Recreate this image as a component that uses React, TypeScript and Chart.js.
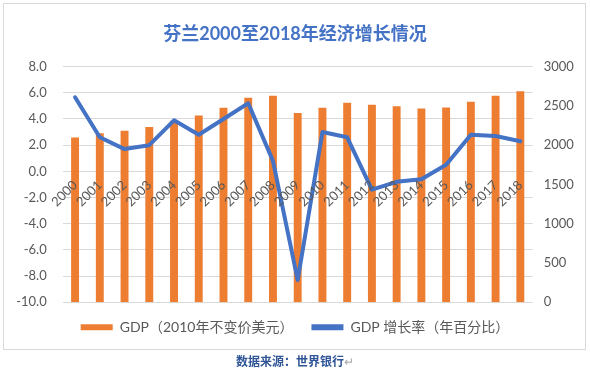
import React, { useEffect, useRef } from 'react';
import { Chart, registerables } from 'chart.js';

Chart.register(...registerables);

const years = ['2000', '2001', '2002', '2003', '2004', '2005', '2006', '2007', '2008', '2009', '2010', '2011', '2012', '2013', '2014', '2015', '2016', '2017', '2018'];
const gdpValues = [2097, 2153, 2183, 2232, 2310, 2378, 2477, 2604, 2628, 2409, 2477, 2540, 2515, 2494, 2468, 2481, 2553, 2630, 2685];
const growthValues = [5.66, 2.6, 1.7, 2.0, 3.9, 2.8, 4.0, 5.2, 0.8, -8.3, 3.0, 2.6, -1.4, -0.8, -0.6, 0.5, 2.8, 2.7, 2.3];
const titleText = '芬兰2000至2018年经济增长情况';
const gdpLabel = 'GDP（2010年不变价美元）';
const growthLabel = 'GDP 增长率（年百分比）';
const sourceText = '数据来源：世界银行';

const ORANGE = '#ED7D31';
const BLUE = '#4472C4';
const GRAY = '#595959';
const FONT = "Lato, 'Noto Sans CJK SC', sans-serif";

export default function App() {
  const ref = useRef<HTMLCanvasElement>(null);

  useEffect(() => {
    if (!ref.current) return;
    const chart = new Chart(ref.current, {
      type: 'bar',
      data: {
        labels: years,
        datasets: [
          {
            type: 'bar',
            label: gdpLabel,
            data: gdpValues,
            backgroundColor: ORANGE,
            yAxisID: 'y1',
            order: 1,
            categoryPercentage: 1,
            barPercentage: 0.32,
          },
          {
            type: 'line',
            label: growthLabel,
            data: growthValues,
            borderColor: BLUE,
            backgroundColor: BLUE,
            borderWidth: 4,
            tension: 0,
            pointRadius: 0,
            borderJoinStyle: 'round',
            borderCapStyle: 'round',
            yAxisID: 'y',
            order: 0,
          },
        ],
      } as any,
      options: {
        responsive: false,
        animation: false,
        devicePixelRatio: 1,
        layout: { padding: { top: 0, left: 0, right: 0, bottom: 27.7 } },
        plugins: {
          tooltip: { enabled: false },
          title: {
            display: true,
            text: titleText,
            color: BLUE,
            font: { family: FONT, size: 18, weight: 'bold' },
            padding: { top: 23, bottom: 22 },
          },
          legend: {
            display: true,
            position: 'bottom',
            labels: {
              boxWidth: 32,
              boxHeight: 6,
              padding: 18,
              color: GRAY,
              font: { family: FONT, size: 14 },
              generateLabels: (c: any) =>
                c.data.datasets.map((ds: any, i: number) => ({
                  text: ds.label,
                  fillStyle: i === 0 ? ORANGE : BLUE,
                  strokeStyle: i === 0 ? ORANGE : BLUE,
                  lineWidth: 0,
                  hidden: false,
                  datasetIndex: i,
                  fontColor: GRAY,
                })),
            },
          },
        },
        scales: {
          x: {
            type: 'category',
            position: { y: 0 } as any,
            offset: true,
            grid: { display: false, drawTicks: false },
            border: { display: false },
            ticks: {
              z: 1,
              color: GRAY,
              font: { family: FONT, size: 13 },
              minRotation: 45,
              maxRotation: 45,
              autoSkip: false,
              padding: 6,
            },
          },
          y: {
            position: 'left',
            min: -10,
            max: 8,
            ticks: {
              stepSize: 2,
              color: GRAY,
              font: { family: FONT, size: 13 },
              padding: 16,
              callback: (v: any) => Number(v).toFixed(1),
            },
            grid: { color: '#D9D9D9', lineWidth: 1, drawTicks: false },
            border: { display: false },
            afterFit: (s: any) => { s.width = 62.7; },
          },
          y1: {
            position: 'right',
            min: 0,
            max: 3000,
            ticks: {
              stepSize: 500,
              color: GRAY,
              font: { family: FONT, size: 13 },
              padding: 11,
              callback: (v: any) => String(v),
            },
            grid: { display: false, drawTicks: false },
            border: { display: false },
            afterFit: (s: any) => { s.width = 57.3; },
          },
        },
      } as any,
    });
    return () => chart.destroy();
  }, []);

  return (
    <div style={{ position: 'fixed', left: 0, top: 0, width: 590, height: 372, background: '#fff' }}>
      <div
        style={{
          position: 'absolute', left: 3, top: 3, width: 583, height: 347,
          border: '1px solid #D9D9D9', boxSizing: 'border-box',
        }}
      />
      <canvas ref={ref} width={590} height={372} style={{ position: 'absolute', left: 0, top: 0, width: 590, height: 372 }} />
      <div
        style={{
          position: 'absolute', left: 0, top: 354, width: 590, textAlign: 'center',
          fontFamily: FONT, fontSize: 12, fontWeight: 'bold', color: '#2F5597', lineHeight: '16px',
        }}
      >
        {sourceText}<span style={{ color: '#A6A6A6', fontWeight: 'normal' }}>↵</span>
      </div>
    </div>
  );
}
